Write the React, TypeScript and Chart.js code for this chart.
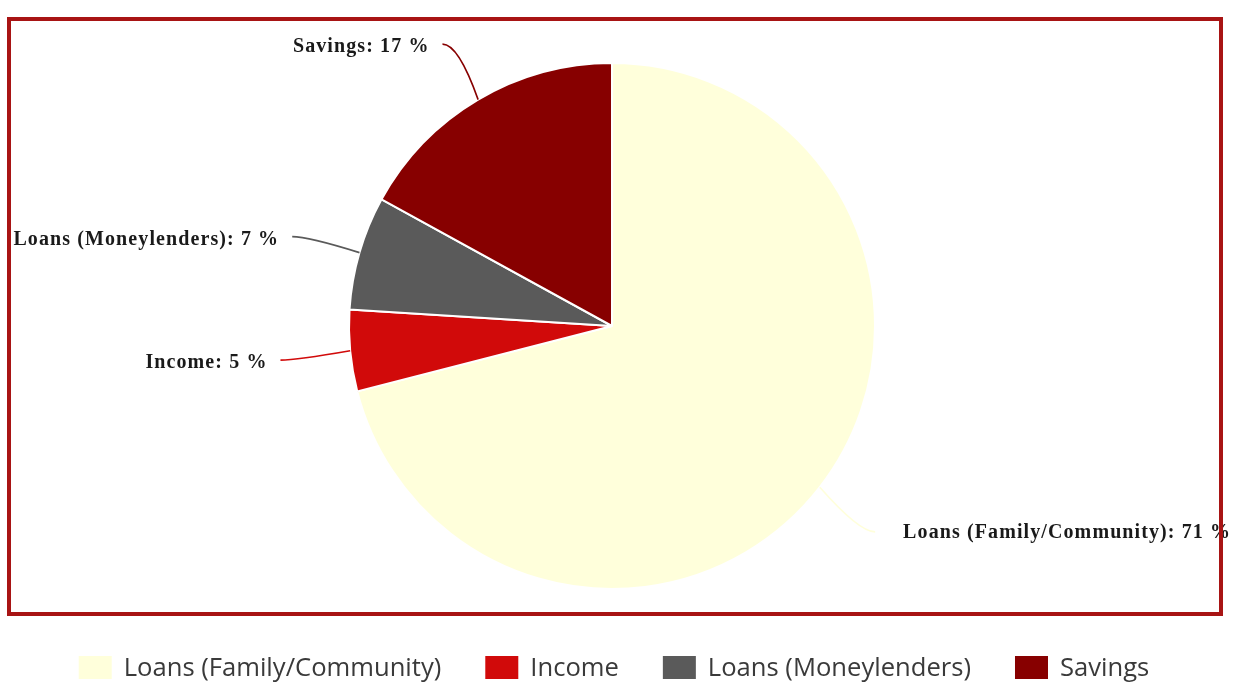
import React, { useEffect, useRef } from "react";
import { Chart, registerables } from "chart.js";

Chart.register(...registerables);

const categories = ["Loans (Family/Community)", "Income", "Loans (Moneylenders)", "Savings"];
const shares = [71, 5, 7, 17];
const sliceColors = ["#FFFFDB", "#D10A0A", "#5A5A5A", "#870000"];

const W = 1236;
const H = 684;

const framePlugin = {
  id: "frame",
  beforeDraw(chart: any) {
    const ctx = chart.ctx;
    ctx.save();
    ctx.fillStyle = "#ffffff";
    ctx.fillRect(0, 0, chart.width, chart.height);
    ctx.restore();
  },
  afterDraw(chart: any) {
    const ctx = chart.ctx;
    ctx.save();
    ctx.strokeStyle = "#A81414";
    ctx.lineWidth = 4;
    ctx.strokeRect(9, 19, 1212, 595);
    ctx.restore();
  },
};

const leaderPlugin = {
  id: "leaderLabels",
  afterDatasetsDraw(chart: any) {
    const ctx = chart.ctx;
    const meta = chart.getDatasetMeta(0);
    const total = shares.reduce((a, b) => a + b, 0);
    ctx.save();
    meta.data.forEach((arc: any, i: number) => {
      const p = arc.getProps(["x", "y", "startAngle", "endAngle", "outerRadius"], true);
      const mid = (p.startAngle + p.endAngle) / 2;
      const dx = Math.cos(mid);
      const dy = Math.sin(mid);
      const sx = p.x + dx * p.outerRadius;
      const sy = p.y + dy * p.outerRadius;
      const ex = p.x + dx * (p.outerRadius + 70);
      const ey = p.y + dy * (p.outerRadius + 68) + 3;
      const right = dx >= 0;
      const cx = ex + (right ? -16 : 16);
      const cy = ey;
      ctx.beginPath();
      ctx.moveTo(sx, sy);
      ctx.quadraticCurveTo(cx, cy, ex, ey);
      ctx.strokeStyle = sliceColors[i];
      ctx.lineWidth = 1.6;
      ctx.stroke();

      const pct = Math.round((shares[i] / total) * 100);
      const text = `${categories[i]}: ${pct} %`;
      ctx.font = "bold 20px 'Liberation Serif', 'Times New Roman', serif";
      (ctx as any).letterSpacing = "1.1px";
      ctx.fillStyle = "#1a1a1a";
      ctx.textBaseline = "middle";
      if (right) {
        ctx.textAlign = "left";
        ctx.fillText(text, ex + 28, ey + 1);
      } else {
        ctx.textAlign = "right";
        ctx.fillText(text, ex - 13, ey + 3);
      }
    });
    ctx.restore();
  },
};

const legendPlugin = {
  id: "customLegend",
  afterDraw(chart: any) {
    const ctx = chart.ctx;
    ctx.save();
    const fontSize = 25.6;
    ctx.font = `${fontSize}px 'Open Sans', 'Noto Sans', sans-serif`;
    (ctx as any).letterSpacing = "0px";
    const boxW = 33;
    const boxH = 23;
    const gapText = 12;
    const gapItem = 44;
    const widths = categories.map((c) => boxW + gapText + ctx.measureText(c).width);
    const totalW = widths.reduce((a, b) => a + b, 0) + gapItem * (categories.length - 1);
    let x = 614 - totalW / 2;
    const boxTop = 656;
    const midY = boxTop + boxH / 2 + 1;
    categories.forEach((c, i) => {
      ctx.fillStyle = sliceColors[i];
      ctx.fillRect(x, boxTop, boxW, boxH);
      ctx.fillStyle = "#3a3a3a";
      ctx.textAlign = "left";
      ctx.textBaseline = "middle";
      ctx.fillText(c, x + boxW + gapText, midY);
      x += widths[i] + gapItem;
    });
    ctx.restore();
  },
};

export default function App() {
  const ref = useRef<HTMLCanvasElement | null>(null);
  useEffect(() => {
    if (!ref.current) return;
    const chart = new Chart(ref.current, {
      type: "pie",
      data: {
        labels: categories,
        datasets: [
          {
            data: shares,
            backgroundColor: sliceColors,
            borderColor: "#ffffff",
            borderWidth: 2,
          },
        ],
      },
      options: {
        responsive: false,
        animation: false,
        devicePixelRatio: 1,
        layout: { padding: { top: 62, bottom: H - 590, left: 0, right: W - 1224 } },
        plugins: {
          legend: { display: false },
          tooltip: { enabled: false },
        },
      },
      plugins: [framePlugin, leaderPlugin, legendPlugin],
    });
    return () => chart.destroy();
  }, []);
  return (
    <div style={{ position: "absolute", left: 0, top: 0, width: W, height: H }}>
      <canvas ref={ref} width={W} height={H} style={{ width: W, height: H, display: "block" }} />
    </div>
  );
}
